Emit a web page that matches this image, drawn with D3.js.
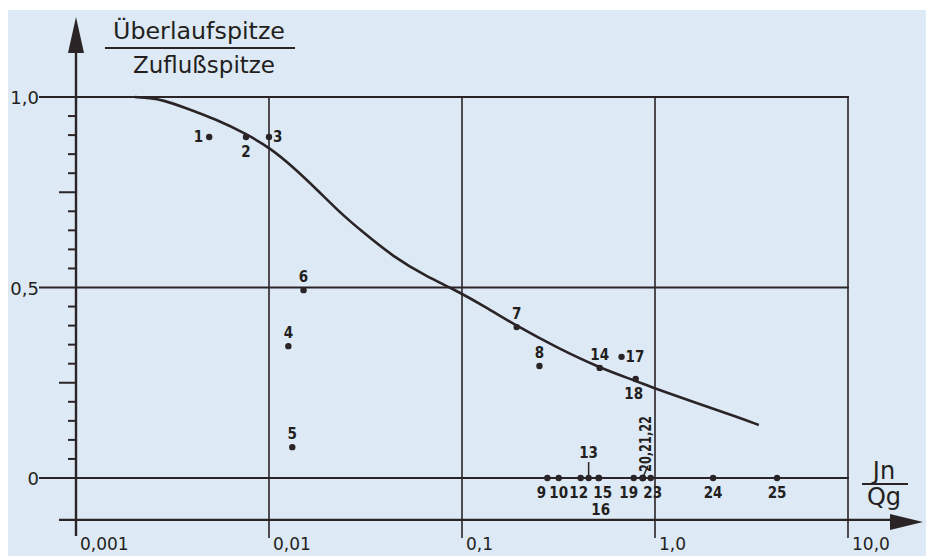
<!DOCTYPE html>
<html>
<head>
<meta charset="utf-8">
<script src="https://cdn.jsdelivr.net/npm/d3@7"></script>
<style>
    body { margin: 0; background: #ffffff; }
    svg { display: block; }
    text { font-family: "DejaVu Sans", sans-serif; fill: #231f20; }
    .pt { font-family: "DejaVu Sans Condensed", "DejaVu Sans", sans-serif; }
</style>
</head>
<body>
<div id="chart"></div>
<script>
// curve
const curveX = [0.00202, 0.00242, 0.00282, 0.00359, 0.0054, 0.00763, 0.01014, 0.01336, 0.0178, 0.0234,
    0.0297, 0.0441, 0.0662, 0.0904, 0.1324, 0.192, 0.313, 0.517, 0.794, 0.985, 1.533, 2.79, 3.45];
const curveY = [1.0, 0.997, 0.992, 0.974, 0.94, 0.903, 0.866, 0.816, 0.756, 0.696,
    0.651, 0.58, 0.528, 0.496, 0.449, 0.399, 0.341, 0.289, 0.255, 0.236, 0.202, 0.157, 0.139];

// measured points
const pointNames = ["1", "2", "3", "4", "5", "6", "7", "8", "9", "10", "12", "13", "14", "15", "16",
    "17", "18", "19", "20", "21", "22", "23", "24", "25"];
const pointX = [0.0049, 0.0076, 0.0100, 0.0126, 0.0132, 0.0151, 0.192, 0.252, 0.277, 0.317, 0.412, 0.453, 0.517, 0.511, 0.511,
    0.671, 0.794, 0.776, 0.864, 0.864, 0.864, 0.950, 2.00, 4.29];
const pointY = [0.895, 0.895, 0.895, 0.346, 0.081, 0.493, 0.396, 0.294, 0, 0, 0, 0, 0.289, 0, 0,
    0.318, 0.260, 0, 0, 0, 0, 0, 0, 0];

const xTicks = [0.001, 0.01, 0.1, 1, 10];
const xTickLabels = ["0,001", "0,01", "0,1", "1,0", "10,0"];
const yMajor = [0, 0.5, 1];
const yMajorLabels = ["0", "0,5", "1,0"];

const ink = "#2a2426";
const width = 931, height = 556;

const svg = d3.select("#chart").append("svg")
    .attr("width", width)
    .attr("height", height);

// paper
svg.append("rect")
    .attr("x", 8).attr("y", 10)
    .attr("width", 918).attr("height", height - 10)
    .attr("fill", "#dde9f5");

const x = d3.scaleLog().domain([0.001, 10]).range([76, 848]);
const y = d3.scaleLinear().domain([0, 1]).range([478, 97]);

const grid = svg.append("g").attr("class", "grid");
const axes = svg.append("g").attr("class", "axes");
const marks = svg.append("g").attr("class", "marks");

const axisY = y(-0.11);   // bottom axis line

// vertical grid lines per decade
grid.selectAll("line.v")
    .data(xTicks.slice(1))
    .join("line")
    .attr("class", "v")
    .attr("x1", d => x(d)).attr("x2", d => x(d))
    .attr("y1", y(1) - 1).attr("y2", axisY + 18)
    .attr("stroke", ink)
    .attr("stroke-width", 1.6);

// horizontal lines 0 / 0.5 / 1
grid.selectAll("line.h")
    .data(yMajor)
    .join("line")
    .attr("class", "h")
    .attr("x1", 39).attr("x2", x(10) + 1)
    .attr("y1", d => y(d)).attr("y2", d => y(d))
    .attr("stroke", ink)
    .attr("stroke-width", d => d == 0.5 ? 1.8 : 2.2);

// minor y ticks every 0.05
const minor = d3.range(1, 20).map(i => i * 0.05).filter(v => Math.abs(v - 0.5) > 0.01);
axes.selectAll("line.minor")
    .data(minor)
    .join("line")
    .attr("class", "minor")
    .attr("x1", d => (Math.abs(d - 0.25) < 0.01 || Math.abs(d - 0.75) < 0.01) ? 59 : 68)
    .attr("x2", x(0.001))
    .attr("y1", d => y(d)).attr("y2", d => y(d))
    .attr("stroke", ink)
    .attr("stroke-width", 2);

// y axis with arrow
axes.append("line")
    .attr("x1", x(0.001)).attr("x2", x(0.001))
    .attr("y1", 40).attr("y2", axisY + 16)
    .attr("stroke", ink)
    .attr("stroke-width", 2.4);
axes.append("path")
    .attr("d", `M${x(0.001)},17 L${x(0.001) - 8},53 L${x(0.001) + 8},53 Z`)
    .attr("fill", ink);

// x axis with arrow
axes.append("line")
    .attr("x1", 59).attr("x2", 900)
    .attr("y1", axisY).attr("y2", axisY)
    .attr("stroke", ink)
    .attr("stroke-width", 2.4);
axes.append("path")
    .attr("d", `M923,${axisY + 2} L890,${axisY - 6} L890,${axisY + 10} Z`)
    .attr("fill", ink);

// tick labels
axes.selectAll("text.xt")
    .data(xTicks)
    .join("text")
    .attr("class", "xt")
    .attr("x", d => x(d) + 4)
    .attr("y", 550)
    .attr("font-size", 17)
    .text((d, i) => xTickLabels[i]);

axes.selectAll("text.yt")
    .data(yMajor)
    .join("text")
    .attr("class", "yt")
    .attr("x", 39)
    .attr("y", d => y(d) + 7)
    .attr("text-anchor", "end")
    .attr("font-size", 18)
    .text((d, i) => yMajorLabels[i]);

// axis titles as fractions
const yTitle = axes.append("g");
yTitle.append("text")
    .attr("x", 113).attr("y", 39)
    .attr("font-size", 23)
    .attr("textLength", 172)
    .attr("lengthAdjust", "spacingAndGlyphs")
    .text("Überlaufspitze");
yTitle.append("line")
    .attr("x1", 105).attr("x2", 295)
    .attr("y1", 48).attr("y2", 48)
    .attr("stroke", ink).attr("stroke-width", 2.2);
yTitle.append("text")
    .attr("x", 133).attr("y", 73)
    .attr("font-size", 23)
    .attr("textLength", 142)
    .attr("lengthAdjust", "spacingAndGlyphs")
    .text("Zuflußspitze");

const xTitle = axes.append("g");
xTitle.append("text")
    .attr("x", 884).attr("y", 479)
    .attr("text-anchor", "middle")
    .attr("font-size", 24)
    .text("Jn");
xTitle.append("line")
    .attr("x1", 862).attr("x2", 908)
    .attr("y1", 484).attr("y2", 484)
    .attr("stroke", ink).attr("stroke-width", 2.2);
xTitle.append("text")
    .attr("x", 884).attr("y", 505)
    .attr("text-anchor", "middle")
    .attr("font-size", 24)
    .text("Qg");

// fitted curve
const curve = curveX.map((d, i) => [d, curveY[i]]);
marks.append("path")
    .datum(curve)
    .attr("fill", "none")
    .attr("stroke", ink)
    .attr("stroke-width", 2.6)
    .attr("d", d3.line()
        .x(d => x(d[0]))
        .y(d => y(d[1]))
        .curve(d3.curveBasis));

// points
const points = pointNames.map((n, i) => ({name: n, x: pointX[i], y: pointY[i]}));
marks.selectAll("circle")
    .data(points)
    .join("circle")
    .attr("cx", d => x(d.x))
    .attr("cy", d => y(d.y))
    .attr("r", 3.2)
    .attr("fill", ink);

// where each label sits relative to its dot
const placement = {"1": "left", "2": "below", "3": "right", "17": "right", "18": "below",
    "16": "below2", "13": "stick", "20": "rotated", "21": "none", "22": "none"};
const nudge = {"9": -6, "12": -2, "15": 4, "16": 2, "19": -5, "23": 2, "18": -2};

points.forEach(p => {
    var where = placement[p.name] || (p.y == 0 ? "below" : "above");
    var px = x(p.x) + (nudge[p.name] || 0), py = y(p.y);
    if (where == "none") {
        return;
    }
    var t = marks.append("text").attr("class", "pt").attr("font-size", 15).attr("font-weight", "bold");
    if (where == "left") {
        t.attr("x", px - 6).attr("y", py + 5).attr("text-anchor", "end").text(p.name);
    }
    else if (where == "right") {
        t.attr("x", px + 4).attr("y", py + 5).text(p.name);
    }
    else if (where == "above") {
        t.attr("x", px).attr("y", py - 8).attr("text-anchor", "middle").text(p.name);
    }
    else if (where == "below") {
        t.attr("x", px).attr("y", py + 20).attr("text-anchor", "middle").text(p.name);
    }
    else if (where == "below2") {
        t.attr("x", px).attr("y", py + 37).attr("text-anchor", "middle").text(p.name);
    }
    else if (where == "stick") {
        marks.append("line")
            .attr("x1", px).attr("x2", px)
            .attr("y1", py - 16).attr("y2", py)
            .attr("stroke", ink).attr("stroke-width", 1.5);
        t.attr("x", px).attr("y", py - 20).attr("text-anchor", "middle").text(p.name);
    }
    else if (where == "rotated") {
        marks.append("line")
            .attr("x1", px + 5).attr("x2", px)
            .attr("y1", py - 12).attr("y2", py)
            .attr("stroke", ink).attr("stroke-width", 1.5);
        t.attr("transform", `translate(${px + 8},${py - 6}) rotate(-90)`)
            .attr("x", 0).attr("y", 0)
            .attr("textLength", 56)
            .attr("lengthAdjust", "spacingAndGlyphs")
            .text("20,21,22");
    }
});
</script>
</body>
</html>
